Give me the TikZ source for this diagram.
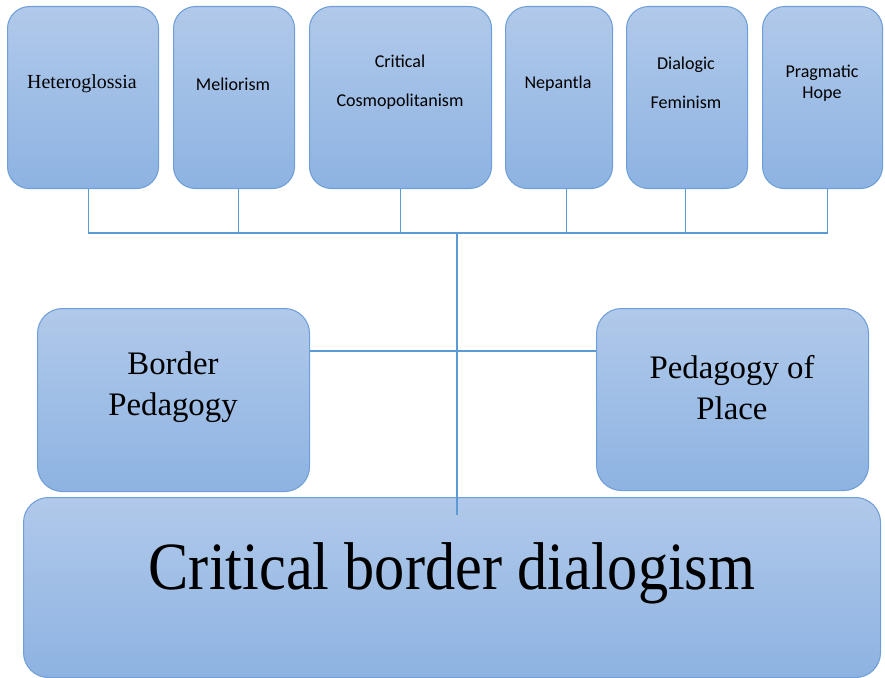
\documentclass[tikz,border=0pt]{standalone}
\usepackage{fontspec}
\setmainfont{Liberation Serif}
\newfontfamily\calibri{Carlito}

\definecolor{boxtop}{HTML}{B1C9EA}
\definecolor{boxbot}{HTML}{8DB3E2}
\definecolor{boxline}{HTML}{6F9FD8}
\definecolor{wireblue}{HTML}{5B9BD5}

\begin{document}
\begin{tikzpicture}[x=0.03cm,y=-0.03cm,
  box/.style={rectangle, rounded corners=0.66cm, draw=boxline, line width=0.9pt,
    top color=boxtop, bottom color=boxbot, anchor=north west, inner sep=0pt},
  boxsize/.style 2 args={minimum width=#1*0.03cm, minimum height=#2*0.03cm},
  wire/.style={draw=wireblue, line width=1pt},
  sanslabel/.style={font=\calibri\fontsize{15.4}{#1}\selectfont, align=center, inner sep=0pt},
  seriflabel/.style={font=\fontsize{28}{#1}\selectfont, align=center, inner sep=0pt}]
\useasboundingbox (0,0) rectangle (885,678);

% top row
\node[box,boxsize={151}{182}] (hetero) at (7,6) {};
\node[box,boxsize={121}{182}] (melior) at (173,6) {};
\node[box,boxsize={182}{182}] (cosmo) at (309,6) {};
\node[box,boxsize={107}{182}] (nepan) at (505,6) {};
\node[box,boxsize={121}{182}] (femin) at (626,6) {};
\node[box,boxsize={120}{182}] (hope) at (762,6) {};

\node[font=\fontsize{17}{20}\selectfont, inner sep=0pt] (heterotxt) at (82,84) {Heteroglossia};
\node[sanslabel=18] (meliortxt) at (233,84) {Meliorism};
\node[sanslabel=33.3] (cosmotxt) at (400,82.5) {Critical\\Cosmopolitanism};
\node[sanslabel=18] (nepantxt) at (558,84) {Nepantla};
\node[sanslabel=33.3] (femintxt) at (686,82.5) {Dialogic\\Feminism};
\node[sanslabel=18] (hopetxt) at (822,83.5) {Pragmatic\\Hope};

% middle and bottom
\node[box,rounded corners=0.75cm,boxsize={272}{183}] (border) at (37,308) {};
\node[box,rounded corners=0.75cm,boxsize={272}{182}] (place) at (596,308) {};
\node[box,rounded corners=0.75cm,boxsize={857}{180}] (cbd) at (23,497) {};

\node[seriflabel=35] (bordertxt) at (173,387.5) {Border\\Pedagogy};
\node[seriflabel=35] (placetxt) at (732,387.5) {Pedagogy of\\Place};
\node[font=\fontsize{51.5}{60}\selectfont, inner sep=0pt, yscale=1.12] (cbdtxt) at (452,573) {Critical border dialogism};

% connectors
\coordinate (hub) at (457,233);
\coordinate (cross) at (457,351);
\coordinate (tail) at (457,515);
\draw[wire] ([xshift=0.17cm]hetero.south) |- (hub) -| ([xshift=0.15cm]hope.south);
\draw[wire] ([xshift=0.14cm]melior.south) -- ([xshift=0.14cm]melior.south |- hub);
\draw[wire] (cosmo.south) -- (cosmo.south |- hub);
\draw[wire] ([xshift=0.22cm]nepan.south) -- ([xshift=0.22cm]nepan.south |- hub);
\draw[wire] ([xshift=-0.05cm]femin.south) -- ([xshift=-0.05cm]femin.south |- hub);
\draw[wire] (hub) -- (tail);
\draw[wire] (cross -| border.east) -- (cross -| place.west);
\end{tikzpicture}
\end{document}
